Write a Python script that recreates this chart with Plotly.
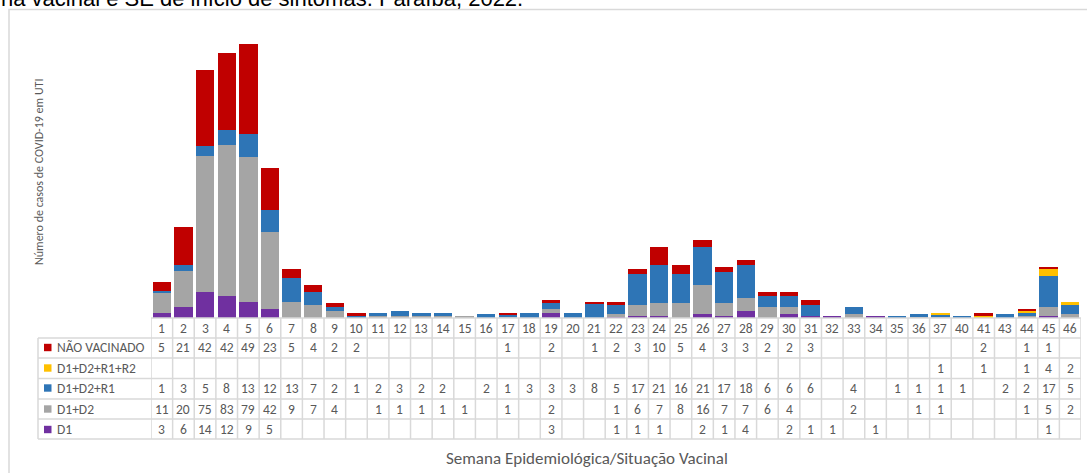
import plotly.graph_objects as go

weeks = [str(w) for w in list(range(1, 38)) + [40, 41, 43, 44, 45, 46]]

N = None
nao_vacinado = [5, 21, 42, 42, 49, 23, 5, 4, 2, 2, N, N, N, N, N, N, 1, N, 2, N, 1, 2, 3, 10, 5, 4, 3, 3, 2, 2, 3,
                N, N, N, N, N, N, N, 2, N, 1, 1, N]
d1_d2_r1_r2 = [N] * 36 + [1, N, 1, N, 1, 4, 2]
d1_d2_r1 = [1, 3, 5, 8, 13, 12, 13, 7, 2, 1, 2, 3, 2, 2, N, 2, 1, 3, 3, 3, 8, 5, 17, 21, 16, 21, 17, 18, 6, 6, 6,
            N, 4, N, 1, 1, 1, 1, N, 2, 2, 17, 5]
d1_d2 = [11, 20, 75, 83, 79, 42, 9, 7, 4, N, 1, 1, 1, 1, 1, N, 1, N, 2, N, N, 1, 6, 7, 8, 16, 7, 7, 6, 4, N,
         N, 2, N, N, 1, 1, N, N, N, 1, 5, 2]
d1 = [3, 6, 14, 12, 9, 5, N, N, N, N, N, N, N, N, N, N, N, N, 3, N, N, 1, 1, 1, N, 2, 1, 4, N, 2, 1,
      1, N, 1, N, N, N, N, N, N, N, 1, N]

series_names = ["D1", "D1+D2", "D1+D2+R1", "D1+D2+R1+R2", "NÃO VACINADO"]
series_values = [d1, d1_d2, d1_d2_r1, d1_d2_r1_r2, nao_vacinado]
series_colors = ["#7030A0", "#A5A5A5", "#2E75B6", "#FFC000", "#C00000"]

title_text = "na vacinal e SE de início de sintomas. Paraíba, 2022."
y_title = "Número de casos de COVID-19 em UTI"
x_title = "Semana Epidemiológica/Situação Vacinal"

FONT = "Carlito, Lato, sans-serif"
TXT = "#595959"
GRID = "#D9D9D9"
TS = 13.5

W, H = 1087, 473
ML, MR, MT, MB = 151, 6, 12, 155
PW = W - ML - MR
PH = H - MT - MB
BASE = H - MB  # pixel y of the axis


def px(x):
    return (x - ML) / PW


def py(y):
    return (BASE - y) / PH


fig = go.Figure()
for name, vals, col in zip(series_names, series_values, series_colors):
    fig.add_trace(go.Bar(x=weeks, y=vals, name=name, marker=dict(color=col, line=dict(width=0)),
                         showlegend=False))

shapes = []
annotations = []

row_lines = [318, 338, 358, 378.5, 399, 419, 439]
row_text = [328, 347.5, 368, 388, 409, 429.5]

for i in range(len(weeks) + 1):
    shapes.append(dict(type="line", xref="x", yref="paper", x0=i - 0.5, x1=i - 0.5,
                       y0=py(row_lines[0]), y1=py(row_lines[-1]), line=dict(color=GRID, width=1.5)))
for k, yl in enumerate(row_lines):
    if k == 0:
        shapes.append(dict(type="line", xref="x", yref="paper", x0=-0.5, x1=len(weeks) - 0.5,
                           y0=py(yl), y1=py(yl), line=dict(color=GRID, width=1.5)))
    else:
        shapes.append(dict(type="line", xref="paper", yref="paper", x0=px(38), x1=1,
                           y0=py(yl), y1=py(yl), line=dict(color=GRID, width=1.5)))
shapes.append(dict(type="line", xref="paper", yref="paper", x0=px(38), x1=px(38),
                   y0=py(row_lines[1]), y1=py(row_lines[-1]), line=dict(color=GRID, width=1.5)))

# header row (week numbers)
for i, w in enumerate(weeks):
    annotations.append(dict(x=i, xref="x", y=py(row_text[0]), yref="paper", text=w, showarrow=False,
                            font=dict(family=FONT, size=TS, color=TXT), xanchor="center", yanchor="middle"))

# data rows (top: NÃO VACINADO ... bottom: D1)
for r, idx in enumerate([4, 3, 2, 1, 0]):
    yc = py(row_text[r + 1])
    shapes.append(dict(type="rect", xref="paper", yref="paper", x0=px(44), x1=px(51.5),
                       y0=yc - 3.7 / PH, y1=yc + 3.7 / PH, fillcolor=series_colors[idx], line=dict(width=0)))
    annotations.append(dict(x=px(54.5), xref="paper", y=yc, yref="paper", text=series_names[idx],
                            showarrow=False, xanchor="left", yanchor="middle",
                            font=dict(family=FONT, size=TS, color=TXT)))
    for i, v in enumerate(series_values[idx]):
        if v is not None:
            annotations.append(dict(x=i, xref="x", y=yc, yref="paper", text=str(v), showarrow=False,
                                    font=dict(family=FONT, size=TS, color=TXT), xanchor="center",
                                    yanchor="middle"))

annotations.append(dict(x=px(39), y=py(172), xref="paper", yref="paper", text=y_title, textangle=-90,
                        xanchor="center", yanchor="middle",
                        showarrow=False, font=dict(family=FONT, size=12, color=TXT)))
annotations.append(dict(x=px(587), y=py(458), xref="paper", yref="paper", text=x_title,
                        xanchor="center", yanchor="middle",
                        showarrow=False, font=dict(family=FONT, size=17, color=TXT)))
annotations.append(dict(x=px(-1), y=py(-1), xref="paper", yref="paper", text=title_text, xanchor="left",
                        yanchor="middle", showarrow=False,
                        font=dict(family="Liberation Sans, Arial, sans-serif", size=22, color="#000000")))

shapes.append(dict(type="rect", xref="paper", yref="paper", x0=px(9), x1=px(1100), y0=py(490), y1=py(9.5),
                   line=dict(color=GRID, width=1.5), fillcolor="rgba(0,0,0,0)", layer="below"))

fig.update_layout(
    width=W, height=H, margin=dict(l=ML, r=MR, t=MT, b=MB),
    barmode="stack", bargap=0.15,
    paper_bgcolor="white", plot_bgcolor="white",
    xaxis=dict(type="category", showticklabels=False, showgrid=False, zeroline=False, showline=False,
               ticks="", range=[-0.5, len(weeks) - 0.5], fixedrange=True),
    yaxis=dict(range=[0, PH / 1.825], showticklabels=False, showgrid=False, zeroline=False,
               showline=False, ticks="", fixedrange=True),
    shapes=shapes, annotations=annotations,
)

fig.write_html("out.html", config={"displayModeBar": False},
               post_script="document.body.style.margin='0';document.body.style.overflow='hidden';")
